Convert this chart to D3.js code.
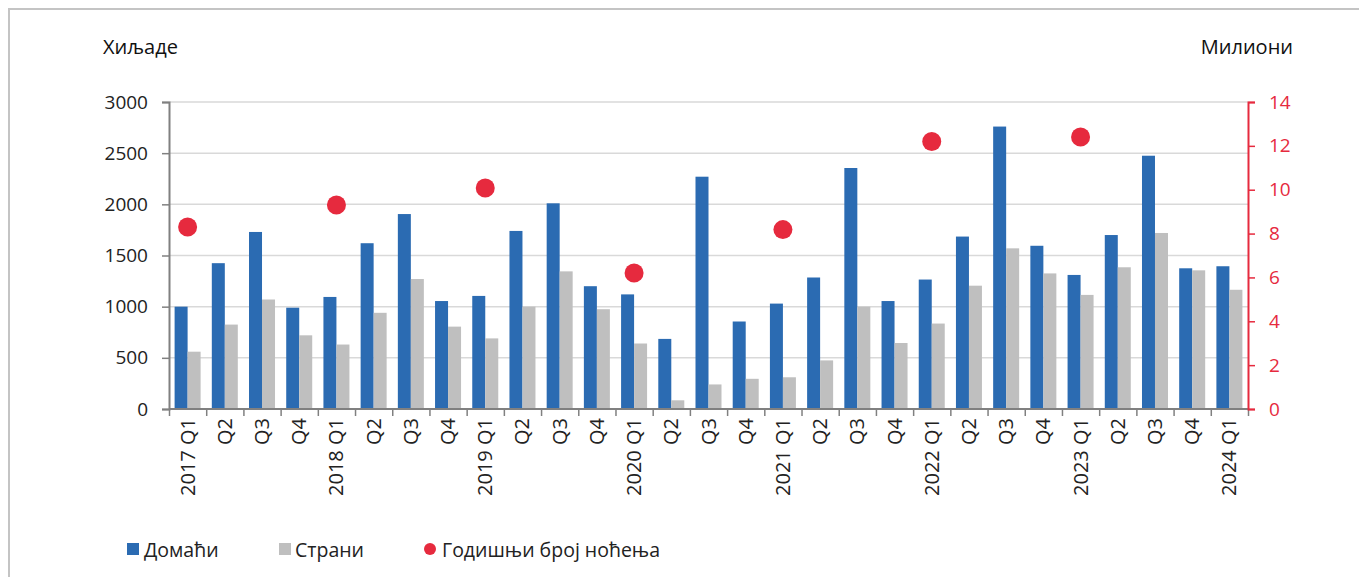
<!DOCTYPE html>
<html><head><meta charset="utf-8">
<script src="https://cdn.jsdelivr.net/npm/d3@7"></script>
<style>
html,body{margin:0;padding:0;background:#fff;}
svg{display:block;font-family:"Open Sans","Noto Sans",sans-serif;}
</style></head>
<body>
<svg id="c" width="1359" height="577"></svg>
<script>
const categories = ["2017 Q1","Q2","Q3","Q4","2018 Q1","Q2","Q3","Q4","2019 Q1","Q2","Q3","Q4","2020 Q1","Q2","Q3","Q4","2021 Q1","Q2","Q3","Q4","2022 Q1","Q2","Q3","Q4","2023 Q1","Q2","Q3","Q4","2024 Q1"];
const domestic = [1000,1425,1730,990,1095,1620,1905,1055,1105,1740,2010,1200,1120,685,2270,855,1030,1285,2355,1055,1265,1685,2760,1595,1310,1700,2475,1375,1395];
const foreign = [560,825,1070,720,630,940,1270,805,690,1000,1345,975,640,85,240,295,310,475,1000,645,835,1205,1570,1325,1115,1385,1720,1355,1165];
const annualIdx = [0,4,8,12,16,20,24];
const annualNights = [8.3,9.3,10.08,6.2,8.18,12.2,12.4];
const leftTicks = [0,500,1000,1500,2000,2500,3000];
const rightTicks = [0,2,4,6,8,10,12,14];
const seriesNames = ["Домаћи","Страни","Годишњи број ноћења"];

const BLUE="#2b6bb2", GREY="#bfbfbf", RED="#e62a3e", AXIS="#808080", GRID="#d9d9d9";
const svg = d3.select("#c");
const L=169, R=1248, T=102, B=409;

svg.append("rect").attr("x",9).attr("y",9).attr("width",1400).attr("height",600)
  .attr("fill","none").attr("stroke","#c4c4c4").attr("stroke-width",2);

const x = d3.scaleBand().domain(d3.range(categories.length)).range([L,R]);
const xs = d3.scaleBand().domain([0,1]).range([0,26]);
const y = d3.scaleLinear().domain([0,3000]).range([B,T]);
const y2 = d3.scaleLinear().domain([0,14]).range([B,T]);

// grid
svg.append("g").selectAll("line").data(leftTicks.slice(1)).join("line")
  .attr("x1",L).attr("x2",R).attr("y1",d=>y(d)).attr("y2",d=>y(d))
  .attr("stroke",GRID).attr("stroke-width",1.5);

// bars
const g = svg.append("g");
const off = (x.bandwidth()-26)/2;
g.selectAll(".d").data(domestic).join("rect")
  .attr("x",(d,i)=>x(i)+off+xs(0)).attr("width",xs.bandwidth())
  .attr("y",d=>y(d)).attr("height",d=>B-y(d)).attr("fill",BLUE);
g.selectAll(".f").data(foreign).join("rect")
  .attr("x",(d,i)=>x(i)+off+xs(1)).attr("width",xs.bandwidth())
  .attr("y",d=>y(d)).attr("height",d=>B-y(d)).attr("fill",GREY);

// left axis
const la = svg.append("g").attr("transform",`translate(${L},0)`)
  .call(d3.axisLeft(y).tickValues(leftTicks).tickFormat(d3.format("d")).tickSize(7).tickPadding(14));
la.select(".domain").attr("stroke",AXIS).attr("stroke-width",2);
la.selectAll(".tick line").attr("stroke",AXIS).attr("stroke-width",1.5);
la.selectAll("text").attr("font-size",19).attr("fill","#222").attr("font-family","Open Sans");

// bottom axis
const xa = d3.scaleLinear().domain([0,categories.length]).range([L,R]);
const ba = svg.append("g").attr("transform",`translate(0,${B})`)
  .call(d3.axisBottom(xa).tickValues(d3.range(categories.length+1)).tickSize(7).tickFormat(""));
ba.select(".domain").attr("stroke",AXIS).attr("stroke-width",2).attr("d",`M${L},0H${R}`);
ba.selectAll(".tick line").attr("stroke",AXIS).attr("stroke-width",1.5);
svg.append("g").selectAll("text").data(categories).join("text")
  .attr("transform",(d,i)=>`translate(${x(i)+x.bandwidth()/2+7},418) rotate(-90)`)
  .attr("text-anchor","end").attr("font-size",20).attr("fill","#222").text(d=>d);

// right axis
const ra = svg.append("g").attr("transform",`translate(${R},0)`)
  .call(d3.axisRight(y2).tickValues(rightTicks).tickSize(7).tickPadding(14));
ra.select(".domain").attr("stroke",RED).attr("stroke-width",2);
ra.selectAll(".tick line").attr("stroke",RED).attr("stroke-width",1.5);
ra.selectAll("text").attr("font-size",19).attr("fill",RED).attr("font-family","Open Sans");

// dots
svg.append("g").selectAll("circle").data(annualNights).join("circle")
  .attr("cx",(d,i)=>x(annualIdx[i])+x.bandwidth()/2).attr("cy",d=>y2(d))
  .attr("r",9.5).attr("fill",RED);

// axis titles
svg.append("text").attr("x",103).attr("y",54).attr("font-size",20).attr("fill","#111").text("Хиљаде");
svg.append("text").attr("x",1293).attr("y",54).attr("text-anchor","end").attr("font-size",20).attr("fill","#111").text("Милиони");

// legend
const lg = svg.append("g");
lg.append("rect").attr("x",127).attr("y",543).attr("width",12).attr("height",12).attr("fill",BLUE);
lg.append("text").attr("x",144).attr("y",557).attr("font-size",19.5).attr("fill","#222").text(seriesNames[0]);
lg.append("rect").attr("x",279).attr("y",543).attr("width",12).attr("height",12).attr("fill",GREY);
lg.append("text").attr("x",295).attr("y",557).attr("font-size",19.5).attr("fill","#222").text(seriesNames[1]);
lg.append("circle").attr("cx",430).attr("cy",549).attr("r",6).attr("fill",RED);
lg.append("text").attr("x",442).attr("y",557).attr("font-size",19.5).attr("fill","#222").text(seriesNames[2]);
</script>
</body></html>
